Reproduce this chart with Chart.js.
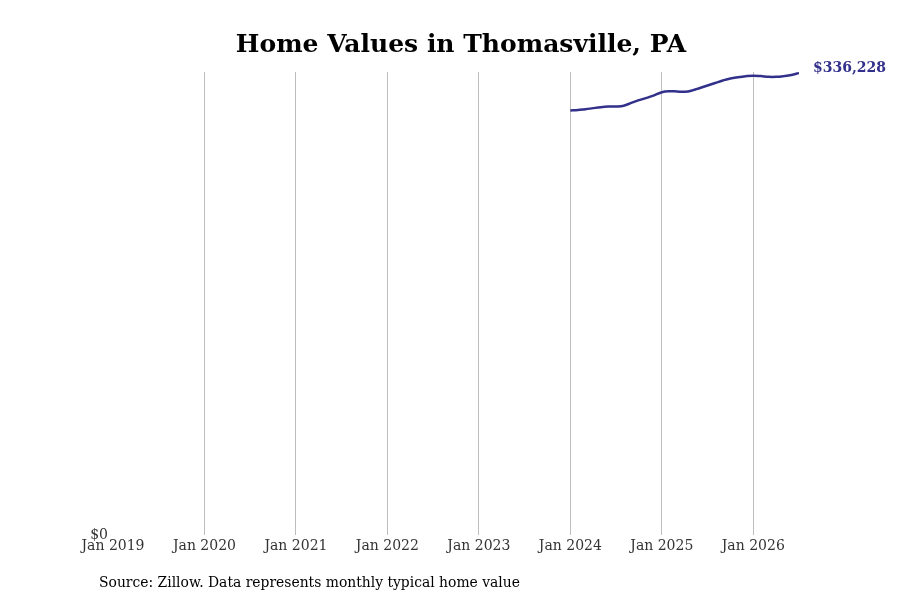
<!DOCTYPE html>
<html>
<head>
<meta charset="utf-8">
<script src="https://cdn.jsdelivr.net/npm/chart.js@4"></script>
<style>
  body { margin: 0; background: #fff; }
  #wrap { position: relative; width: 900px; height: 600px; }
</style>
</head>
<body>
<div id="wrap"><canvas id="homeChart" width="900" height="600"></canvas></div>
<script>
// tick labels on the x axis, one per January (month index 0 = Jan 2019)
var tickLabels = ['Jan 2019', 'Jan 2020', 'Jan 2021', 'Jan 2022', 'Jan 2023', 'Jan 2024', 'Jan 2025', 'Jan 2026'];
var firstMonth = 60; // Jan 2024
// monthly typical home value, Jan 2024 .. Jul 2026
var homeValues = [
  309000, 309400, 309900, 310700, 311400, 311800, 311900, 312500, 314500, 316500, 318200, 320000,
  322300, 323000, 322800, 322600, 323600, 325400, 327200, 329000, 330800, 332300, 333200, 333900,
  334300, 334000, 333500, 333500, 334000, 334800, 336228
];
var lineColor = '#33308c';

var points = homeValues.map(function (v, i) { return { x: firstMonth + i, y: v }; });

var textPlugin = {
  id: 'texts',
  afterDraw: function (chart) {
    var ctx = chart.ctx;
    ctx.save();
    ctx.fillStyle = '#000';
    ctx.font = 'bold 25px "DejaVu Serif"';
    ctx.textAlign = 'center';
    ctx.textBaseline = 'alphabetic';
    ctx.fillText('Home Values in Thomasville, PA', 461, 52);

    ctx.font = '13.9px "DejaVu Serif"';
    ctx.textAlign = 'left';
    ctx.fillText('Source: Zillow. Data represents monthly typical home value', 99, 587);

    // label at the last point
    var meta = chart.getDatasetMeta(0);
    var last = meta.data[meta.data.length - 1];
    ctx.fillStyle = lineColor;
    ctx.font = 'bold 14px "DejaVu Serif"';
    ctx.textBaseline = 'middle';
    ctx.fillText('$' + homeValues[homeValues.length - 1].toLocaleString('en-US'), last.x + 14, last.y - 5);
    ctx.restore();
  }
};

var ctx = document.getElementById('homeChart').getContext('2d');
var homeChart = new Chart(ctx, {
  type: 'line',
  data: {
    datasets: [{
      data: points,
      borderColor: lineColor,
      borderWidth: 2.5,
      pointRadius: 0,
      tension: 0.4,
      fill: false
    }]
  },
  options: {
    responsive: false,
    animation: false,
    layout: { padding: { top: 72, right: 101, left: 1, bottom: 0 } },
    plugins: {
      legend: { display: false },
      tooltip: { enabled: false }
    },
    scales: {
      x: {
        type: 'linear',
        min: 0,
        max: 90,
        afterFit: function (s) { s.height = 65; },
        afterBuildTicks: function (s) {
          s.ticks = tickLabels.map(function (t, i) { return { value: i * 12 }; });
        },
        border: { display: false },
        grid: {
          drawTicks: false,
          color: function (c) { return c.tick && c.tick.value === 0 ? 'rgba(0,0,0,0)' : '#bdbdbd'; },
          lineWidth: 1
        },
        ticks: {
          padding: 3,
          maxRotation: 0,
          autoSkip: false,
          color: '#333',
          font: { family: 'DejaVu Serif', size: 14 },
          callback: function (v) { return tickLabels[v / 12]; }
        }
      },
      y: {
        min: 0,
        max: 337000,
        afterFit: function (s) { s.width = 112; },
        afterBuildTicks: function (s) { s.ticks = [{ value: 0 }]; },
        border: { display: false },
        grid: { display: false, drawTicks: false },
        ticks: {
          padding: 5,
          color: '#333',
          font: { family: 'DejaVu Serif', size: 14 },
          callback: function (v) { return '$' + v; }
        }
      }
    }
  },
  plugins: [textPlugin]
});
</script>
</body>
</html>
